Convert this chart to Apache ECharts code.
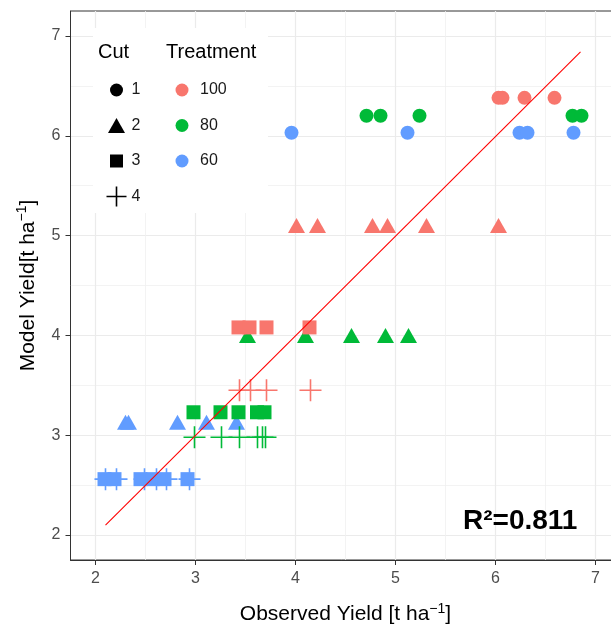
<!DOCTYPE html>
<html>
<head>
<meta charset="utf-8">
<script src="https://cdn.jsdelivr.net/npm/echarts@6/dist/echarts.min.js"></script>
<style>
  html, body { margin: 0; padding: 0; background: #fff; }
  #chart { width: 611px; height: 630px; }
</style>
</head>
<body>
<div id="chart"></div>
<script>
// axis ticks
const xTicks = [2, 3, 4, 5, 6, 7]
const yTicks = [2, 3, 4, 5, 6, 7]

// legend groups
const cuts = ['1', '2', '3', '4']
const treatments = ['100', '80', '60']

// observed yield per cut / treatment (x)
const cut1Obs100 = [6.03, 6.07, 6.29, 6.59]
const cut1Obs80 = [4.71, 4.85, 5.24, 6.77, 6.86]
const cut1Obs60 = [3.96, 5.12, 6.24, 6.32, 6.78]
const cut2Obs100 = [4.01, 4.22, 4.77, 4.92, 5.31, 6.03]
const cut2Obs80 = [3.52, 4.10, 4.56, 4.90, 5.13]
const cut2Obs60 = [2.30, 2.33, 2.82, 3.11, 3.41]
const cut3Obs100 = [3.43, 3.54, 3.71, 4.14]
const cut3Obs80 = [2.98, 3.25, 3.43, 3.615, 3.69]
const cut3Obs60 = [2.09, 2.19, 2.45, 2.57, 2.69, 2.92]
const cut4Obs100 = [3.44, 3.55, 3.71, 4.15]
const cut4Obs80 = [2.99, 3.26, 3.44, 3.62, 3.67, 3.70]
const cut4Obs60 = [2.10, 2.21, 2.49, 2.61, 2.71, 2.94]

// model yield per cut, in treatment order 100, 80, 60 (y)
const cut1Model = [6.38, 6.20, 6.03]
const cut2Model = [5.10, 4.00, 3.13]
const cut3Model = [4.08, 3.23, 2.56]
const cut4Model = [3.45, 2.98, 2.56]

// fitted line
const fitX = [2.10, 6.85]
const fitY = [2.10, 6.84]
const rSquared = 0.811

const observed = [
  [cut1Obs100, cut1Obs80, cut1Obs60],
  [cut2Obs100, cut2Obs80, cut2Obs60],
  [cut3Obs100, cut3Obs80, cut3Obs60],
  [cut4Obs100, cut4Obs80, cut4Obs60]
]
const model = [cut1Model, cut2Model, cut3Model, cut4Model]

const FONT = '"Liberation Sans", Arial, Helvetica, sans-serif'
const treatColors = ['#F8766D', '#00BA38', '#619CFF']
const plusPath = 'path://M10.2,0h1.6v10.2h10.2v1.6h-10.2v10.2h-1.6v-10.2h-10.2v-1.6h10.2z'
const cutSymbols = ['circle', 'triangle', 'rect', plusPath]
const cutSizes = [14, [17, 15], 14, 22]

// legend icons: the leading moves pad every icon to the same box,
// so the shapes keep their own size like in ggplot's key
const cutIcons = [
  'path://M0,0M20,20M16.5,10A6.5,6.5,0,1,1,3.5,10A6.5,6.5,0,1,1,16.5,10Z',
  'path://M0,0M20,20M10,2.5L18.5,17.5L1.5,17.5Z',
  'path://M0,0M20,20M3.5,3.5H16.5V16.5H3.5Z',
  'path://M9.2,0h1.6v9.2h9.2v1.6h-9.2v9.2h-1.6v-9.2h-9.2v-1.6h9.2z'
]
const treatIcon = 'path://M0,0M26,20M19.5,10A6.5,6.5,0,1,1,6.5,10A6.5,6.5,0,1,1,19.5,10Z'

const chart = echarts.init(document.getElementById('chart'), null, { renderer: 'canvas' })

const cutSeries = cuts.map((cut, ci) => ({
  name: cut,
  type: 'scatter',
  symbol: cutSymbols[ci],
  symbolSize: cutSizes[ci],
  itemStyle: { color: '#000', opacity: 1 },
  z: 2 + ci,
  silent: true,
  data: treatments.flatMap((t, ti) =>
    observed[ci][ti].map(x => ({
      value: [x, model[ci][ti]],
      itemStyle: { color: treatColors[ti] }
    }))
  )
}))

// empty series, only to feed the treatment legend
const treatSeries = treatments.map((t, ti) => ({
  name: t,
  type: 'scatter',
  symbol: 'circle',
  itemStyle: { color: treatColors[ti], opacity: 1 },
  data: []
}))

const axisTitleRich = {
  t: { fontSize: 21, color: '#000', fontFamily: FONT, lineHeight: 25 },
  s: { fontSize: 14, color: '#000', fontFamily: FONT, verticalAlign: 'top', lineHeight: 14 }
}

const option = {
  animation: false,
  textStyle: { fontFamily: FONT },
  grid: {
    left: 70.5, top: 11, width: 550, height: 549,
    show: true, borderColor: '#333', borderWidth: 1,
    containLabel: false, outerBoundsMode: 'none'
  },
  title: [
    { text: 'Cut', left: 98, top: 42, padding: 0,
      textStyle: { fontSize: 20, fontWeight: 'normal', color: '#000', fontFamily: FONT } },
    { text: 'Treatment', left: 166, top: 42, padding: 0,
      textStyle: { fontSize: 20, fontWeight: 'normal', color: '#000', fontFamily: FONT } }
  ],
  legend: [
    {
      data: cuts.map((c, i) => ({ name: c, icon: cutIcons[i] })),
      orient: 'vertical', left: 106.5, top: 80, padding: 0,
      itemWidth: 20, itemHeight: 20, itemGap: 15.5, symbolKeepAspect: true,
      selectedMode: false, z: 6,
      textStyle: { fontSize: 16, color: '#1a1a1a', fontFamily: FONT }
    },
    {
      data: treatments.map(t => ({ name: t, icon: treatIcon })),
      orient: 'vertical', left: 169, top: 80, padding: 0,
      itemWidth: 26, itemHeight: 20, itemGap: 15.5, symbolKeepAspect: true,
      selectedMode: false, z: 6,
      textStyle: { fontSize: 16, color: '#1a1a1a', fontFamily: FONT }
    }
  ],
  xAxis: {
    type: 'value', min: 1.75, max: 7.25,
    name: '{t|Observed Yield [t ha}{s|−1}{t|]}',
    nameLocation: 'middle', nameGap: 42,
    nameTextStyle: { rich: axisTitleRich },
    axisLine: { show: true, onZero: false, lineStyle: { color: '#333', width: 1 } },
    axisTick: { show: true, length: 5, customValues: xTicks, lineStyle: { color: '#333' } },
    axisLabel: { customValues: xTicks, margin: 11, fontSize: 16, color: '#4d4d4d' },
    splitLine: { show: true, lineStyle: { color: '#ebebeb', width: 1.2 } },
    minorTick: { show: false, splitNumber: 2 },
    minorSplitLine: { show: true, lineStyle: { color: '#f0f0f0', width: 0.8 } }
  },
  yAxis: {
    type: 'value', min: 1.75, max: 7.25,
    name: '{t|Model Yield[t ha}{s|−1}{t|]}',
    nameLocation: 'middle', nameGap: 30,
    nameTextStyle: { rich: axisTitleRich },
    axisLine: { show: true, onZero: false, lineStyle: { color: '#333', width: 1 } },
    axisTick: { show: true, length: 5, customValues: yTicks, lineStyle: { color: '#333' } },
    axisLabel: { customValues: yTicks, margin: 10, fontSize: 16, color: '#4d4d4d' },
    splitLine: { show: true, lineStyle: { color: '#ebebeb', width: 1.2 } },
    minorTick: { show: false, splitNumber: 2 },
    minorSplitLine: { show: true, lineStyle: { color: '#f0f0f0', width: 0.8 } }
  },
  graphic: [
    // white legend background, over the grid lines
    { type: 'rect', shape: { x: 93, y: 28, width: 175, height: 185 }, style: { fill: '#fff' }, z: 1 },
    { type: 'text', x: 463, y: 521, z: 10,
      style: { text: 'R²=' + rSquared, font: 'bold 28px ' + FONT, fill: '#000', verticalAlign: 'middle', align: 'left' } }
  ],
  series: [
    ...cutSeries,
    ...treatSeries,
    {
      name: 'fit',
      type: 'line',
      data: fitX.map((x, i) => [x, fitY[i]]),
      symbol: 'none',
      silent: true,
      color: '#FF0000',
      itemStyle: { color: '#FF0000' },
      lineStyle: { color: '#FF0000', width: 1.1 },
      z: 10
    }
  ]
}

chart.setOption(option)
</script>
</body>
</html>
